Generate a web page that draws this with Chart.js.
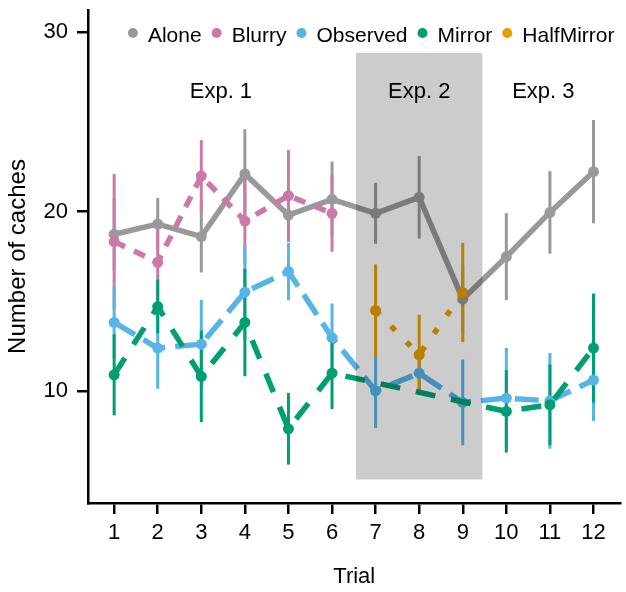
<!DOCTYPE html>
<html>
<head>
<meta charset="utf-8">
<script src="https://cdn.jsdelivr.net/npm/chart.js@4.4.1/dist/chart.umd.min.js"></script>
<style>
  html, body { margin: 0; padding: 0; background: #fff; }
  #wrap { width: 626px; height: 592px; }
</style>
</head>
<body>
<div id="wrap"><canvas id="chart" width="626" height="592"></canvas></div>
<script>
const trials = [1, 2, 3, 4, 5, 6, 7, 8, 9, 10, 11, 12];
const yTicks = [10, 20, 30];

const alone = [18.73, 19.3, 18.6, 22.09, 19.8, 20.68, 19.9, 20.79, 15.11, 17.48, 19.95, 22.22];
const aloneErr = [2.0, 1.45, 2.0, 2.5, 1.5, 2.1, 1.7, 2.3, 1.9, 2.43, 2.3, 2.88];

const blurry = [18.32, 17.17, 21.98, 19.47, 20.88, 19.9, null, null, null, null, null, null];
const blurryErr = [3.77, 2.26, 2.0, 2.4, 2.55, 2.15, null, null, null, null, null, null];

const observed = [13.81, 12.38, 12.6, 15.5, 16.65, 12.97, 10.0, 10.98, 9.35, 9.59, 9.44, 10.6];
const observedErr = [2.0, 2.27, 2.47, 2.64, 1.6, 1.9, 2.08, 1.2, 2.39, 2.8, 2.67, 2.28];

const mirror = [10.89, 14.7, 10.8, 13.81, 7.88, 10.98, null, null, null, 8.85, 9.22, 12.38];
const mirrorErr = [2.26, 1.5, 2.55, 3.0, 2.0, 2.0, null, null, null, 2.3, 2.25, 3.04];

const halfMirror = [null, null, null, null, null, null, 14.48, 12.01, 15.48, null, null, null];
const halfMirrorErr = [null, null, null, null, null, null, 2.57, 2.23, 2.77, null, null, null];

// shaded block for Exp. 2 and the experiment labels
const shadeX = [6.55, 9.45];
const shadeY = [5.05, 28.85];
const expNames = ["Exp. 1", "Exp. 2", "Exp. 3"];
const expX = [3.45, 8, 10.85];
const expY = 26.35;

const FONT = "'Liberation Sans', Arial, Helvetica, sans-serif";

const series = [
  { name: "Alone", values: alone, err: aloneErr, color: "#999999", dash: [] },
  { name: "Blurry", values: blurry, err: blurryErr, color: "#CC79A7", dash: [12, 10] },
  { name: "Observed", values: observed, err: observedErr, color: "#56B4E9", dash: [24, 10] },
  { name: "Mirror", values: mirror, err: mirrorErr, color: "#009E73", dash: [20, 16] },
  { name: "HalfMirror", values: halfMirror, err: halfMirrorErr, color: "#E69F00", dash: [6, 16] },
];

const errorBars = {
  id: "errorBars",
  beforeDatasetsDraw(chart) {
    const { ctx, scales: { x, y } } = chart;
    ctx.save();
    ctx.lineWidth = 3;
    ctx.lineCap = "butt";
    series.forEach((s) => {
      ctx.strokeStyle = s.color;
      s.values.forEach((v, i) => {
        if (v == null) return;
        const px = x.getPixelForValue(trials[i]);
        ctx.beginPath();
        ctx.moveTo(px, y.getPixelForValue(v - s.err[i]));
        ctx.lineTo(px, y.getPixelForValue(v + s.err[i]));
        ctx.stroke();
      });
    });
    ctx.restore();
  },
};

const shading = {
  id: "shading",
  afterDatasetsDraw(chart) {
    const { ctx, scales: { x, y } } = chart;
    const x0 = x.getPixelForValue(shadeX[0]);
    const x1 = x.getPixelForValue(shadeX[1]);
    const y0 = y.getPixelForValue(shadeY[1]);
    const y1 = y.getPixelForValue(shadeY[0]);
    ctx.save();
    ctx.fillStyle = "rgba(0,0,0,0.2)";
    ctx.fillRect(x0, y0, x1 - x0, y1 - y0);
    ctx.fillStyle = "#000";
    ctx.font = "22px " + FONT;
    ctx.textAlign = "center";
    ctx.textBaseline = "alphabetic";
    expNames.forEach((t, i) => {
      ctx.fillText(t, x.getPixelForValue(expX[i]), y.getPixelForValue(expY));
    });
    ctx.restore();
  },
};

// legend row across the top of the plot panel
const topLegend = {
  id: "topLegend",
  afterDraw(chart) {
    const { ctx, chartArea } = chart;
    const r = 5, gapIn = 15, gapOut = 15;
    ctx.save();
    ctx.font = "21px " + FONT;
    ctx.textBaseline = "alphabetic";
    ctx.textAlign = "left";
    const widths = series.map((s) => ctx.measureText(s.name).width);
    const total = r + widths.reduce((a, b) => a + b, 0) +
      series.length * gapIn + (series.length - 1) * gapOut;
    let cx = chartArea.right - 6 - total + r;
    const cy = chartArea.top + 23;
    series.forEach((s, i) => {
      ctx.fillStyle = s.color;
      ctx.beginPath();
      ctx.arc(cx, cy, r, 0, Math.PI * 2);
      ctx.fill();
      ctx.fillStyle = "#000";
      ctx.fillText(s.name, cx + gapIn, cy + 8.5);
      cx += gapIn + widths[i] + gapOut;
    });
    ctx.restore();
  },
};

const datasets = series.map((s, k) => ({
  label: s.name,
  data: trials.map((t, i) => ({ x: t, y: s.values[i] })),
  borderColor: s.color,
  backgroundColor: s.color,
  borderWidth: 5.5,
  borderDash: s.dash,
  borderCapStyle: "butt",
  pointRadius: 5.5,
  pointHoverRadius: 5.5,
  pointBorderWidth: 0,
  pointBackgroundColor: s.color,
  spanGaps: true,
  tension: 0,
  order: series.length - k,
}));

Chart.defaults.font.family = FONT;
Chart.defaults.color = "#000";

new Chart(document.getElementById("chart"), {
  type: "line",
  data: { datasets },
  options: {
    responsive: false,
    animation: false,
    layout: { padding: { left: 0, top: 10, right: 5, bottom: 0 } },
    plugins: {
      tooltip: { enabled: false },
      legend: { display: false },
    },
    scales: {
      x: {
        type: "linear",
        min: 0.4,
        max: 12.62,
        afterBuildTicks: (s) => { s.ticks = trials.map((v) => ({ value: v })); },
        afterFit: (s) => { s.height = 89; s.paddingLeft = 0; s.paddingRight = 0; },
        grid: { drawOnChartArea: false, drawTicks: true, tickLength: 11, color: "#000", lineWidth: 2.5 },
        border: { display: true, color: "#000", width: 2.5 },
        ticks: { padding: 6, font: { size: 22 }, color: "#000", maxRotation: 0 },
        title: { display: true, text: "Trial", font: { size: 22 }, color: "#000", padding: { top: 0, bottom: 2 } },
      },
      y: {
        type: "linear",
        min: 3.74,
        max: 31.24,
        afterBuildTicks: (s) => { s.ticks = yTicks.map((v) => ({ value: v })); },
        afterFit: (s) => { s.width = 88; s.paddingTop = 0; s.paddingBottom = 0; },
        grid: { drawOnChartArea: false, drawTicks: true, tickLength: 11, color: "#000", lineWidth: 2.5 },
        border: { display: true, color: "#000", width: 2.5 },
        ticks: { padding: 9, font: { size: 22 }, color: "#000" },
        title: { display: true, text: "Number of caches", font: { size: 24 }, color: "#000", padding: { top: 4, bottom: 0 } },
      },
    },
  },
  plugins: [errorBars, shading, topLegend],
});
</script>
</body>
</html>
